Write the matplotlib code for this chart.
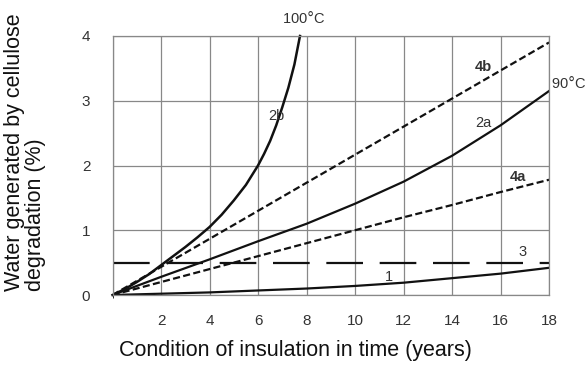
import matplotlib
matplotlib.use("Agg")
import matplotlib.pyplot as plt

plt.rcParams['font.family'] = ['Liberation Sans', 'DejaVu Sans']

# curve 2b (100 C)
x_2b = [0, 0.5, 1, 1.5, 2, 2.5, 3, 3.5, 4, 4.5, 5, 5.5, 6, 6.25, 6.5, 6.75, 7, 7.25, 7.5, 7.73]
y_2b = [0, 0.09, 0.2, 0.32, 0.46, 0.6, 0.74, 0.89, 1.05, 1.24, 1.46, 1.7, 2.0, 2.18, 2.38, 2.62, 2.9, 3.2, 3.56, 4.0]

# curve 2a (90 C)
x_2a = [0, 2, 4, 6, 8, 10, 12, 14, 16, 18]
y_2a = [0, 0.28, 0.55, 0.83, 1.1, 1.41, 1.75, 2.15, 2.62, 3.15]

# curve 4b
x_4b = [0, 18]
y_4b = [0, 3.9]

# curve 4a
x_4a = [0, 2, 4, 6, 8, 10, 12, 14, 16, 18]
y_4a = [0, 0.2, 0.4, 0.6, 0.8, 1.0, 1.2, 1.39, 1.59, 1.78]

# curve 1
x_1 = [0, 2, 4, 6, 8, 10, 12, 14, 16, 18]
y_1 = [0, 0.02, 0.04, 0.07, 0.1, 0.14, 0.19, 0.26, 0.33, 0.42]

# line 3
level_3 = 0.5

x_ticks = [2, 4, 6, 8, 10, 12, 14, 16, 18]
y_ticks = [0, 1, 2, 3, 4]

fig = plt.figure(figsize=(5.87, 3.73), dpi=100)
ax = fig.add_axes([0.1917, 0.2091, 0.7436, 0.6944])

ax.set_xlim(0, 18)
ax.set_ylim(0, 4)
ax.set_xticks(x_ticks)
ax.set_yticks(y_ticks)
ax.set_xticks([0], minor=True)
ax.grid(True, which='both', color='#888888', lw=0.9)
for s in ax.spines.values():
    s.set_color('#888888')
    s.set_linewidth(0.9)
ax.tick_params(length=0, labelsize=11, colors='#333333')
ax.tick_params(axis='x', pad=14)
ax.tick_params(axis='y', pad=16)

ink = '#111111'
ax.plot(x_2b, y_2b, color=ink, lw=1.8, clip_on=False)
ax.plot(x_2a, y_2a, color=ink, lw=1.6)
ax.plot(x_1, y_1, color=ink, lw=1.6)
ax.plot(x_4b, y_4b, color=ink, lw=1.6, dashes=(3.2, 1.5))
ax.plot(x_4a, y_4a, color=ink, lw=1.6, dashes=(3.2, 1.5))
ax.plot([0, 18], [level_3, level_3], color=ink, lw=1.6, dashes=(16.5, 7.5))

lab = dict(color='#333333', fontsize=10.5)
ax.text(7.9, 4.28, '100$\\degree$C', ha='center', va='center', **lab)
ax.text(18.1, 3.28, '90$\\degree$C', ha='left', va='center', **lab)
ax.text(6.75, 2.77, '2b', ha='center', va='center', **lab)
ax.text(15.3, 2.66, '2a', ha='center', va='center', **lab)
ax.text(15.3, 3.52, '4b', ha='center', va='center', fontweight='bold', **lab)
ax.text(16.7, 1.82, '4a', ha='center', va='center', fontweight='bold', **lab)
ax.text(16.9, 0.66, '3', ha='center', va='center', **lab)
ax.text(11.4, 0.28, '1', ha='center', va='center', **lab)

ax.set_xlabel('Condition of insulation in time (years)', fontsize=15.5, color='#111111')
ax.set_ylabel('Water generated by cellulose\ndegradation (%)', fontsize=15.5, color='#111111',
              linespacing=1.0, multialignment='left')
ax.xaxis.set_label_coords(0.418, -0.175)
ax.yaxis.set_label_coords(-0.152, 0.55)

fig.savefig('out.png', dpi=100)
